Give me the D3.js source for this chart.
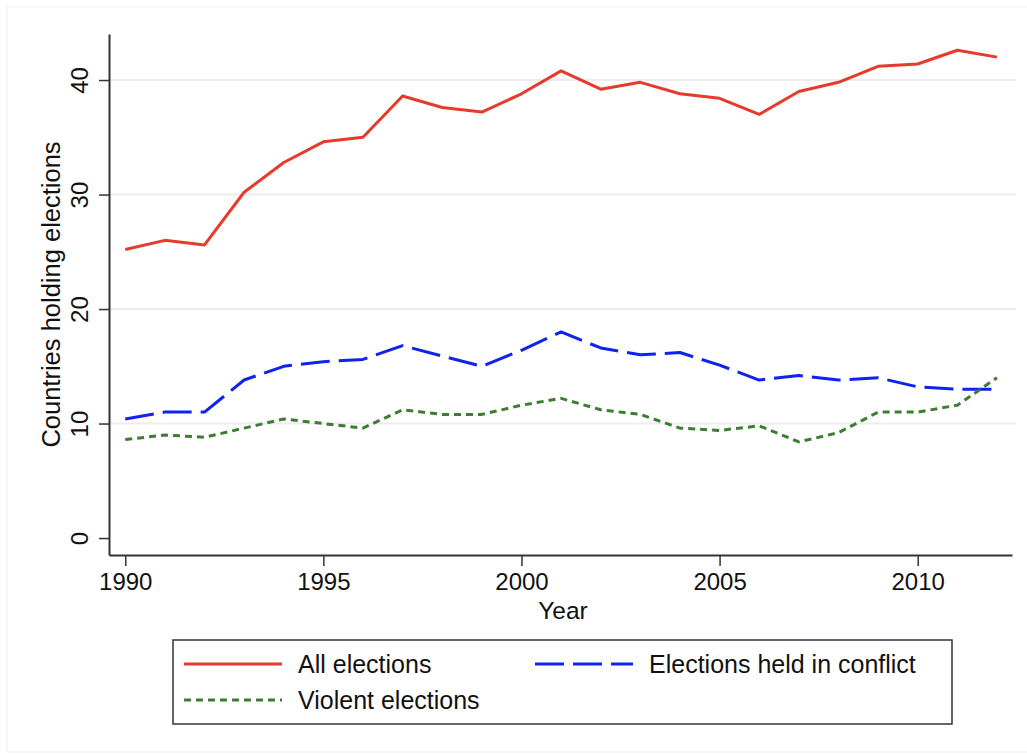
<!DOCTYPE html>
<html>
<head>
<meta charset="utf-8">
<script src="https://cdn.jsdelivr.net/npm/d3@7"></script>
<style>
  body { margin: 0; background: #fff; }
  svg { display: block; font-family: "Liberation Sans", Helvetica, Arial, sans-serif; }
</style>
</head>
<body>
<svg id="chart" width="1027" height="755"></svg>
<script>
// Years on the x axis
const YEARS = d3.range(1990, 2013);

// Series values
const ALL_ELECTIONS = [25.2, 26.0, 25.6, 30.2, 32.8, 34.6, 35.0, 38.6, 37.6, 37.2, 38.8, 40.8,
  39.2, 39.8, 38.8, 38.4, 37.0, 39.0, 39.8, 41.2, 41.4, 42.6, 42.0];
const IN_CONFLICT = [10.4, 11.0, 11.0, 13.8, 15.0, 15.4, 15.6, 16.8, 15.9, 15.0, 16.4, 18.0,
  16.6, 16.0, 16.2, 15.1, 13.8, 14.2, 13.8, 14.0, 13.2, 13.0, 13.0];
const VIOLENT = [8.6, 9.0, 8.8, 9.6, 10.4, 10.0, 9.6, 11.2, 10.8, 10.8, 11.6, 12.2,
  11.2, 10.8, 9.6, 9.4, 9.8, 8.4, 9.2, 11.0, 11.0, 11.6, 14.0];

const Y_TICKS = [0, 10, 20, 30, 40];
const GRID_TICKS = [10, 20, 30, 40];
const X_TICKS = [1990, 1995, 2000, 2005, 2010];

const SERIES = [
  { name: 'All elections', values: ALL_ELECTIONS, color: '#e63a2c', dash: null },
  { name: 'Elections held in conflict', values: IN_CONFLICT, color: '#0f22ee', dash: '29,9' },
  { name: 'Violent elections', values: VIOLENT, color: '#3c7d31', dash: '7,5' },
];

const svg = d3.select('#chart');

// faint outer frame of the graph region
svg.append('rect')
  .attr('x', 7).attr('y', 7)
  .attr('width', 1030).attr('height', 745)
  .attr('fill', 'none')
  .attr('stroke', '#f0f0f0')
  .attr('stroke-width', 1);

// plot region: axis lines sit a bit outside the data range, like Stata does
const xscale = d3.scaleLinear().domain([1989.59, 2012.38]).range([109, 1012]);
const yscale = d3.scaleLinear().domain([-1.48, 44.02]).range([555, 34]);

// gridlines
svg.append('g').selectAll('line').data(GRID_TICKS)
  .enter().append('line')
  .attr('x1', 110).attr('x2', 1016)
  .attr('y1', d => yscale(d)).attr('y2', d => yscale(d))
  .attr('stroke', '#ececec')
  .attr('stroke-width', 2);

// y axis
const yaxis = svg.append('g')
  .attr('transform', 'translate(109,0)')
  .call(d3.axisLeft(yscale).tickValues(Y_TICKS).tickSize(10).tickSizeOuter(0));
yaxis.selectAll('path, line').attr('stroke', '#333').attr('stroke-width', 1.5);
yaxis.selectAll('text')
  .attr('x', 0).attr('dy', 0)
  .attr('text-anchor', 'middle')
  .attr('transform', 'translate(-21,0) rotate(-90)')
  .attr('font-size', 24)
  .attr('font-family', null)
  .attr('fill', '#111');

// x axis
const xaxis = svg.append('g')
  .attr('transform', 'translate(0,555)')
  .call(d3.axisBottom(xscale).tickValues(X_TICKS).tickFormat(d3.format('d')).tickSize(11).tickSizeOuter(0));
xaxis.selectAll('path, line').attr('stroke', '#333').attr('stroke-width', 1.5);
xaxis.selectAll('text')
  .attr('y', 35).attr('dy', 0)
  .attr('font-size', 24)
  .attr('font-family', null)
  .attr('fill', '#111');
svg.selectAll('.domain').attr('stroke-width', 2);

// axis titles
svg.append('text')
  .attr('transform', `translate(60,${(34 + 555) / 2}) rotate(-90)`)
  .attr('text-anchor', 'middle')
  .attr('font-size', 25.5)
  .attr('fill', '#111')
  .text('Countries holding elections');
svg.append('text')
  .attr('x', 563).attr('y', 619)
  .attr('text-anchor', 'middle')
  .attr('font-size', 24.5)
  .attr('fill', '#111')
  .text('Year');

// lines
const line = d3.line()
  .x((d, i) => xscale(YEARS[i]))
  .y(d => yscale(d));
svg.append('g').selectAll('path').data(SERIES)
  .enter().append('path')
  .attr('d', s => line(s.values))
  .attr('fill', 'none')
  .attr('stroke', s => s.color)
  .attr('stroke-width', 3)
  .attr('stroke-dasharray', s => s.dash)
  .attr('stroke-linejoin', 'round');

// legend
const legend = svg.append('g');
legend.append('rect')
  .attr('x', 173).attr('y', 640)
  .attr('width', 779).attr('height', 84)
  .attr('fill', '#fff')
  .attr('stroke', '#333')
  .attr('stroke-width', 1.5);
const slots = [
  { x: 184, y: 664 },
  { x: 535, y: 664 },
  { x: 184, y: 700 },
];
const items = legend.selectAll('.item').data(SERIES)
  .enter().append('g')
  .attr('class', 'item')
  .attr('transform', (s, i) => `translate(${slots[i].x},${slots[i].y})`);
items.append('line')
  .attr('x1', 0).attr('x2', 98)
  .attr('y1', 0).attr('y2', 0)
  .attr('stroke', s => s.color)
  .attr('stroke-width', 3)
  .attr('stroke-dasharray', s => s.dash);
items.append('text')
  .attr('x', 114).attr('y', 9)
  .attr('font-size', 25)
  .attr('fill', '#111')
  .text(s => s.name);
</script>
</body>
</html>
